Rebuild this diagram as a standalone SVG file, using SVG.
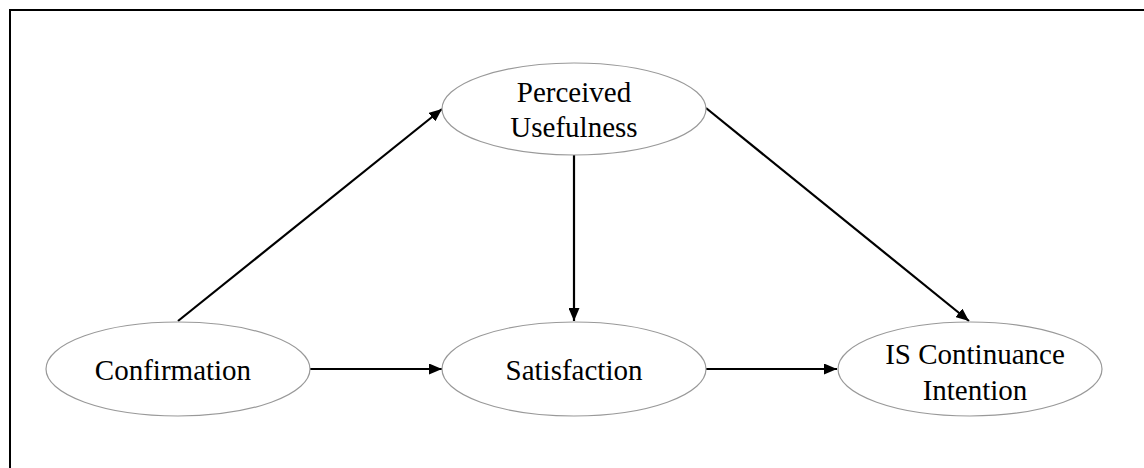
<svg xmlns="http://www.w3.org/2000/svg" width="1144" height="468" viewBox="0 0 1144 468">
  <style>
    .node ellipse { fill: #ffffff; stroke: #999999; stroke-width: 1.2; }
    .node text { font-family: "Liberation Serif", "Times New Roman", serif; font-size: 29px; fill: #000000; text-anchor: middle; }
    .edge { stroke: #000000; stroke-width: 2.2; fill: none; marker-end: url(#arrow); }
    .frame { stroke: #000000; stroke-width: 2; }
  </style>
  <defs>
    <marker id="arrow" viewBox="0 0 13 11" refX="13" refY="5.5" markerWidth="13" markerHeight="11" markerUnits="userSpaceOnUse" orient="auto">
      <path d="M0,0 L13,5.5 L0,11 Z" fill="#000000"/>
    </marker>
  </defs>
  <rect width="1144" height="468" fill="#ffffff"/>
  <g id="frame">
    <line class="frame" x1="9" y1="10" x2="1144" y2="10"/>
    <line class="frame" x1="10" y1="9" x2="10" y2="468"/>
  </g>
  <g id="connectors">
    <line class="edge" x1="178" y1="321" x2="442" y2="109"/>
    <line class="edge" x1="310" y1="369" x2="442" y2="369"/>
    <line class="edge" x1="574" y1="155" x2="574" y2="321"/>
    <line class="edge" x1="706" y1="369" x2="837" y2="369"/>
    <line class="edge" x1="706" y1="108" x2="969" y2="321"/>
  </g>
  <g id="perceived-usefulness" class="node">
    <ellipse cx="574" cy="109" rx="132" ry="46"/>
    <text x="574" y="102">Perceived</text>
    <text x="574" y="137">Usefulness</text>
  </g>
  <g id="confirmation" class="node">
    <ellipse cx="178" cy="369" rx="132" ry="47"/>
    <text x="173" y="380">Confirmation</text>
  </g>
  <g id="satisfaction" class="node">
    <ellipse cx="574" cy="369" rx="132" ry="47"/>
    <text x="574" y="380">Satisfaction</text>
  </g>
  <g id="is-continuance-intention" class="node">
    <ellipse cx="970" cy="369" rx="132" ry="47"/>
    <text x="975" y="364">IS Continuance</text>
    <text x="975" y="400">Intention</text>
  </g>
</svg>
